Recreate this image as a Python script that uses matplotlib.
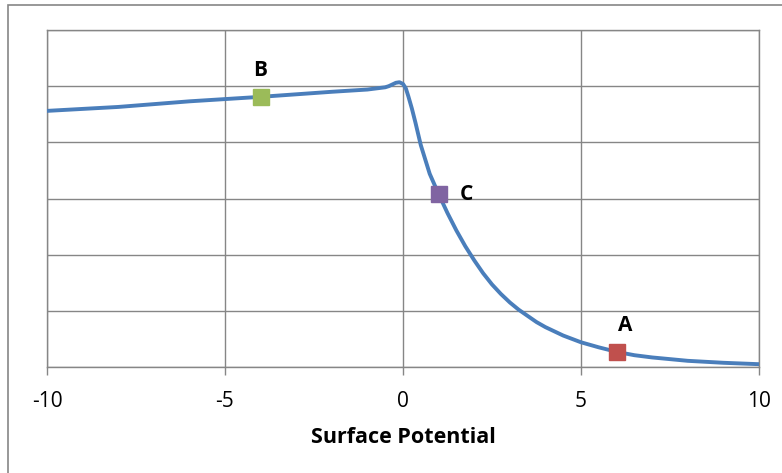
import matplotlib
matplotlib.use("Agg")
import matplotlib.pyplot as plt
from matplotlib.patches import Rectangle

# Curve data (y in grid units 0..6)
curve_x = [-10, -8, -6, -4, -2, -1, -0.5, -0.4, -0.3, -0.2, -0.1, 0.0, 0.08, 0.15, 0.25,
           0.35, 0.5, 0.75, 1.0, 1.25, 1.5, 1.75, 2.0, 2.25, 2.5, 2.75, 3.0, 3.25, 3.5,
           3.75, 4.0, 4.5, 5.0, 5.5, 6.0, 6.5, 7.0, 7.5, 8.0, 9.0, 10.0]
curve_y = [4.56, 4.63, 4.73, 4.81, 4.90, 4.94, 4.98, 5.00, 5.03, 5.06, 5.07, 5.04, 4.96,
           4.82, 4.60, 4.35, 3.95, 3.44, 3.08, 2.74, 2.43, 2.15, 1.90, 1.67, 1.47, 1.30,
           1.15, 1.02, 0.91, 0.80, 0.71, 0.56, 0.44, 0.35, 0.27, 0.21, 0.17, 0.14, 0.11,
           0.075, 0.05]

point_labels = ["A", "B", "C"]
point_x = [6.0, -4.0, 1.0]
point_y = [0.27, 4.81, 3.08]
point_colors = ["#C0504D", "#9BBB59", "#8064A2"]

x_ticks = [-10, -5, 0, 5, 10]
x_label = "Surface Potential"

W, H = 782, 473
fig = plt.figure(figsize=(W / 100, H / 100), dpi=100)
fig.patch.set_facecolor("white")

# outer chart border
fig.add_artist(Rectangle((8 / W, -0.05), 1.2, 1 - 5 / H + 0.05, transform=fig.transFigure,
                         fill=False, edgecolor="#868686", linewidth=1.2))

ax = fig.add_axes([47 / W, 1 - 367 / H, (759 - 47) / W, (367 - 30) / H])
ax.set_xlim(-10, 10)
ax.set_ylim(0, 6)
grid_c = "#868686"
for s in ax.spines.values():
    s.set_color(grid_c)
    s.set_linewidth(1.0)
ax.set_xticks(x_ticks)
ax.set_xticklabels([str(t) for t in x_ticks])
ax.set_yticks(range(0, 7))
ax.tick_params(axis="y", left=False, labelleft=False)
ax.tick_params(axis="x", direction="out", length=6, width=1.0, color=grid_c,
               labelsize=15, pad=11)
for lab in ax.get_xticklabels():
    lab.set_fontfamily("Open Sans")
ax.grid(True, color=grid_c, linewidth=1.0)
ax.set_axisbelow(True)

ax.plot(curve_x, curve_y, color="#4A7EBB", linewidth=2.8, solid_capstyle="round",
        solid_joinstyle="round", zorder=3)

offsets = {"A": (6, 19, "center"), "B": (0, 19, "center"), "C": (15, 0, "left")}
for lab, x, y, c in zip(point_labels, point_x, point_y, point_colors):
    ax.plot([x], [y], marker="s", markersize=11, color=c, markeredgecolor=c, zorder=4,
            linestyle="none")
    dx, dy, ha = offsets[lab]
    ax.annotate(lab, (x, y), xytext=(dx, dy), textcoords="offset points", ha=ha,
                va="center", fontsize=15, fontweight="bold", fontfamily="Open Sans", zorder=5)

ax.set_xlabel(x_label, fontsize=15.5, fontweight="bold", fontfamily="Open Sans", labelpad=11)

fig.savefig("out.png", dpi=100)
